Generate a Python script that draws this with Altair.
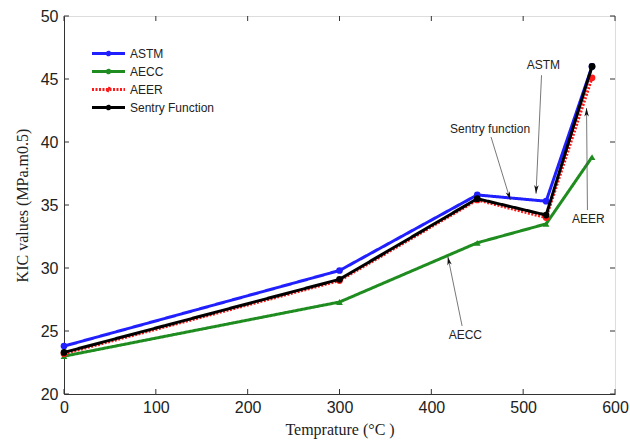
import altair as alt
import pandas as pd
import math

# ---- data ----
temps = [0, 300, 450, 525, 575]
astm = [23.8, 29.8, 35.8, 35.3, 46.0]
aecc = [23.0, 27.3, 32.0, 33.5, 38.8]
aeer = [23.2, 29.0, 35.4, 34.0, 45.1]
sentry = [23.3, 29.1, 35.5, 34.2, 46.0]
series_names = ["ASTM", "AECC", "AEER", "Sentry Function"]
series_colors = ["#1f1fff", "#1e8c1e", "#ff1a1a", "#000000"]
series_dash = [[1, 0], [1, 0], [2, 1.5], [1, 0]]

x_ticks = [0, 100, 200, 300, 400, 500, 600]
y_ticks = [20, 25, 30, 35, 40, 45, 50]

# annotations: label, text x, text y, arrow start x,y, arrow end x,y
ann_labels = ["ASTM", "Sentry function", "AEER", "AECC"]
ann_tx = [522, 464, 571, 437]
ann_ty = [46.1, 41.0, 33.9, 24.7]
ann_x1 = [520, 465, 570, 433.5]
ann_y1 = [45.3, 40.4, 34.6, 25.4]
ann_x2 = [514, 486, 569, 418]
ann_y2 = [35.9, 35.4, 42.7, 30.9]

W, H = 551, 378
XMAX, YMIN, YMAX = 600, 20, 50

rows = []
for name, vals in zip(series_names, [astm, aecc, aeer, sentry]):
    for t, v in zip(temps, vals):
        rows.append({"series": name, "T": t, "K": v})
df = pd.DataFrame(rows)

def ang(x1, y1, x2, y2):
    dx = (x2 - x1) / XMAX * W
    dy = -(y2 - y1) / (YMAX - YMIN) * H
    return math.degrees(math.atan2(dx, -dy)) % 360

ann = pd.DataFrame({
    "label": ann_labels, "tx": ann_tx, "ty": ann_ty,
    "x1": ann_x1, "y1": ann_y1, "x2": ann_x2, "y2": ann_y2,
    "ang": [ang(a, b, c, d) for a, b, c, d in zip(ann_x1, ann_y1, ann_x2, ann_y2)],
})

xs = alt.Scale(domain=[0, XMAX], nice=False)
ys = alt.Scale(domain=[YMIN, YMAX], nice=False)

color = alt.Color(
    "series:N",
    scale=alt.Scale(domain=series_names, range=series_colors),
    legend=alt.Legend(
        title=None, orient="none", legendX=38, legendY=31, padding=0,
        symbolType="M-3.3,0L3.3,0M-0.25,0a0.25,0.25 0 1,0 0.5,0a0.25,0.25 0 1,0 -0.5,0",
        symbolSize=100, symbolStrokeWidth=3, labelFont="Liberation Sans",
        labelFontSize=12, labelColor="#222", rowPadding=3, labelOffset=15,
        symbolOffset=0,
    ),
)
dash = alt.StrokeDash(
    "series:N",
    scale=alt.Scale(domain=series_names, range=series_dash),
    legend=None,
)

base = alt.Chart(df).encode(
    x=alt.X("T:Q", scale=xs, axis=alt.Axis(
        title="Temprature (°C )", values=x_ticks, ticks=False, grid=False,
        labelFlush=False, labelOverlap=False,
        labelFont="Liberation Sans", labelFontSize=16, labelColor="#222",
        labelPadding=5, titleFont="Liberation Serif", titleFontSize=16,
        titleFontWeight="normal", titleColor="#222", titlePadding=6,
        domainColor="#333")),
    y=alt.Y("K:Q", scale=ys, axis=alt.Axis(
        title="KIC values (MPa.m0.5)", values=y_ticks, ticks=False, grid=False,
        labelFlush=False, labelOverlap=False,
        labelFont="Liberation Sans", labelFontSize=16, labelColor="#222",
        labelPadding=6, titleFont="Liberation Serif", titleFontSize=16,
        titleFontWeight="normal", titleColor="#222", titlePadding=10,
        domainColor="#333")),
)

layers = []
for name in ["AECC", "ASTM", "AEER", "Sentry Function"]:
    sub = base.transform_filter(alt.datum.series == name)
    layers.append(sub.mark_line(strokeWidth=3).encode(color=color, strokeDash=dash))
    shape = "triangle-up" if name == "AECC" else "circle"
    layers.append(sub.mark_point(filled=True, size=45, shape=shape, opacity=1).encode(
        color=alt.Color("series:N", scale=alt.Scale(domain=series_names, range=series_colors), legend=None)))

# inward ticks
xt = pd.DataFrame({"v": x_ticks})
yt = pd.DataFrame({"v": y_ticks})
tick_style = dict(color="#333", strokeWidth=1)
layers.append(alt.Chart(xt).mark_rule(**tick_style).encode(x=alt.X("v:Q", scale=xs), y=alt.value(H), y2=alt.value(H - 5)))
layers.append(alt.Chart(xt).mark_rule(**tick_style).encode(x=alt.X("v:Q", scale=xs), y=alt.value(0), y2=alt.value(5)))
layers.append(alt.Chart(yt).mark_rule(**tick_style).encode(y=alt.Y("v:Q", scale=ys), x=alt.value(0), x2=alt.value(5)))
layers.append(alt.Chart(yt).mark_rule(**tick_style).encode(y=alt.Y("v:Q", scale=ys), x=alt.value(W), x2=alt.value(W - 5)))

# annotations
a = alt.Chart(ann)
layers.append(a.mark_rule(color="#555", strokeWidth=0.8).encode(
    x=alt.X("x1:Q", scale=xs), y=alt.Y("y1:Q", scale=ys),
    x2="x2:Q", y2="y2:Q"))
layers.append(a.mark_point(shape="M0,0L-0.6,2.3L0,1.7L0.6,2.3Z", filled=True, color="#111",
                           size=55, opacity=1).encode(
    x=alt.X("x2:Q", scale=xs), y=alt.Y("y2:Q", scale=ys),
    angle=alt.Angle("ang:Q", scale=None)))
layers.append(a.mark_text(font="Liberation Sans", fontSize=12, color="#222").encode(
    x=alt.X("tx:Q", scale=xs), y=alt.Y("ty:Q", scale=ys), text="label:N"))

chart = alt.layer(*layers).properties(
    width=W, height=H,
    autosize=alt.AutoSizeParams(type="none"),
    padding={"left": 64, "top": 16, "right": 15, "bottom": 51},
).configure_view(stroke="#333", strokeWidth=1).configure(background="white")

chart.save("out.html", embed_options={"renderer": "svg", "actions": False})
